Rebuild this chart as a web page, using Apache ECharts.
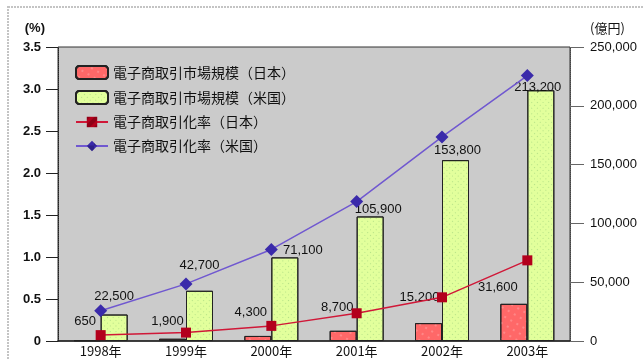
<!DOCTYPE html>
<html><head><meta charset="utf-8">
<script src="https://cdn.jsdelivr.net/npm/echarts@6/dist/echarts.min.js"></script>
<style>html,body{margin:0;padding:0;background:#fff}#c{width:643px;height:359px}</style>
</head><body><div id="c"></div>
<script>
const categories = ['1998年','1999年','2000年','2001年','2002年','2003年'];
const marketJapan = [650, 1900, 4300, 8700, 15200, 31600];
const marketUS = [22500, 42700, 71100, 105900, 153800, 213200];
const rateJapan = [0.07, 0.10, 0.18, 0.33, 0.52, 0.96];
const rateUS = [0.36, 0.68, 1.09, 1.66, 2.43, 3.16];
const seriesNames = ['電子商取引市場規模（日本）','電子商取引市場規模（米国）','電子商取引化率（日本）','電子商取引化率（米国）'];

// label nudges (style only)
const jpLabelNudge = [[-2,-7],[-5,-6],[-7,-12],[-6,-12],[-9,-14],[-16,-5]];
const usLabelNudge = [[0,-7],[0,-14],[18,5],[8,4],[2,2],[-3,9]];

const fmt = v => v.toLocaleString('en-US');
const font = 'Liberation Sans, Arial, sans-serif';
const lblStyle = {fontSize: 13, color: '#111', fontFamily: font};

const chart = echarts.init(document.getElementById('c'), null, {renderer: 'canvas'});
chart.setOption({
  animation: false,
  backgroundColor: '#fff',
  aria: {enabled: true, decal: {show: true}},
  graphic: [{type: 'rect', shape: {x: 8, y: 7, width: 700, height: 400}, style: {fill: 'none', stroke: '#c4c4c4', lineWidth: 2, lineDash: [2, 1]}, z: -1}],
  grid: {left: 58, right: 73, top: 47, bottom: 18, show: true, backgroundColor: '#cbcbcb', borderColor: '#333', borderWidth: 1},
  legend: {
    orient: 'vertical', left: 70, top: 60, itemWidth: 32, itemHeight: 13, itemGap: 10,
    textStyle: {fontSize: 14, color: '#111', fontFamily: 'Noto Sans CJK JP'},
    data: seriesNames
  },
  xAxis: {
    type: 'category', data: categories,
    axisLine: {lineStyle: {color: '#222', width: 1.5}},
    axisTick: {show: false},
    axisLabel: {margin: 4, fontSize: 13, color: '#111', fontFamily: 'Noto Sans CJK JP'}
  },
  yAxis: [
    {type: 'value', min: 0, max: 3.5, interval: 0.5, name: '(%)', nameLocation: 'end', nameGap: 12,
     nameTextStyle: {align: 'right', padding: [0, 13, 0, 0], fontSize: 13, fontWeight: 'bold', color: '#111', fontFamily: font},
     axisLine: {show: true, lineStyle: {color: '#222', type: 'dotted'}},
     axisTick: {show: true, length: 12, lineStyle: {color: '#222'}},
     axisLabel: {margin: 17, fontSize: 13, color: '#111', fontWeight: 'bold', fontFamily: font, formatter: v => v === 0 ? '0' : v.toFixed(1)},
     splitLine: {show: false}},
    {type: 'value', min: 0, max: 250000, interval: 50000, name: '(億円)', nameLocation: 'end', nameGap: 12,
     nameTextStyle: {align: 'left', padding: [0, 0, 0, 20], fontSize: 13, color: '#111', fontFamily: 'Noto Sans CJK JP'},
     axisLine: {show: true, lineStyle: {color: '#444', type: 'dotted'}},
     axisTick: {show: true, length: 14, lineStyle: {color: '#666'}},
     axisLabel: {margin: 20, fontSize: 13, color: '#111', fontFamily: font, formatter: v => fmt(v)},
     splitLine: {show: false}}
  ],
  series: [
    {name: seriesNames[0], type: 'bar', yAxisIndex: 1, barWidth: 27, barGap: '0%',
     itemStyle: {color: '#ff6868', borderColor: '#222', borderWidth: 1,
       decal: {symbol: 'circle', symbolSize: 0.7, color: 'rgba(255,200,200,0.9)', dashArrayX: [[2, 5]], dashArrayY: [2, 5]}},
     data: marketJapan.map((v, i) => ({value: v, label: {offset: jpLabelNudge[i]}})),
     label: Object.assign({show: true, position: 'top', formatter: p => fmt(p.value)}, lblStyle)},
    {name: seriesNames[1], type: 'bar', yAxisIndex: 1, barWidth: 27,
     itemStyle: {color: '#e2ff9c', borderColor: '#222', borderWidth: 1,
       decal: {symbol: 'rect', symbolSize: 1, color: 'rgba(150,205,120,0.6)', dashArrayX: [[1, 3]], dashArrayY: [1, 3], rotation: Math.PI / 4}},
     data: marketUS.map((v, i) => ({value: v, label: {offset: usLabelNudge[i]}})),
     label: Object.assign({show: true, position: 'top', formatter: p => fmt(p.value)}, lblStyle)},
    {name: seriesNames[2], type: 'line', yAxisIndex: 0, data: rateJapan,
     symbol: 'rect', symbolSize: 10, lineStyle: {color: '#d01838', width: 1.5},
     itemStyle: {color: '#b3001c'}, z: 5},
    {name: seriesNames[3], type: 'line', yAxisIndex: 0, data: rateUS,
     symbol: 'diamond', symbolSize: 13, lineStyle: {color: '#7058d0', width: 1.5},
     itemStyle: {color: '#3a2aaa'}, z: 5}
  ]
});
</script></body></html>
